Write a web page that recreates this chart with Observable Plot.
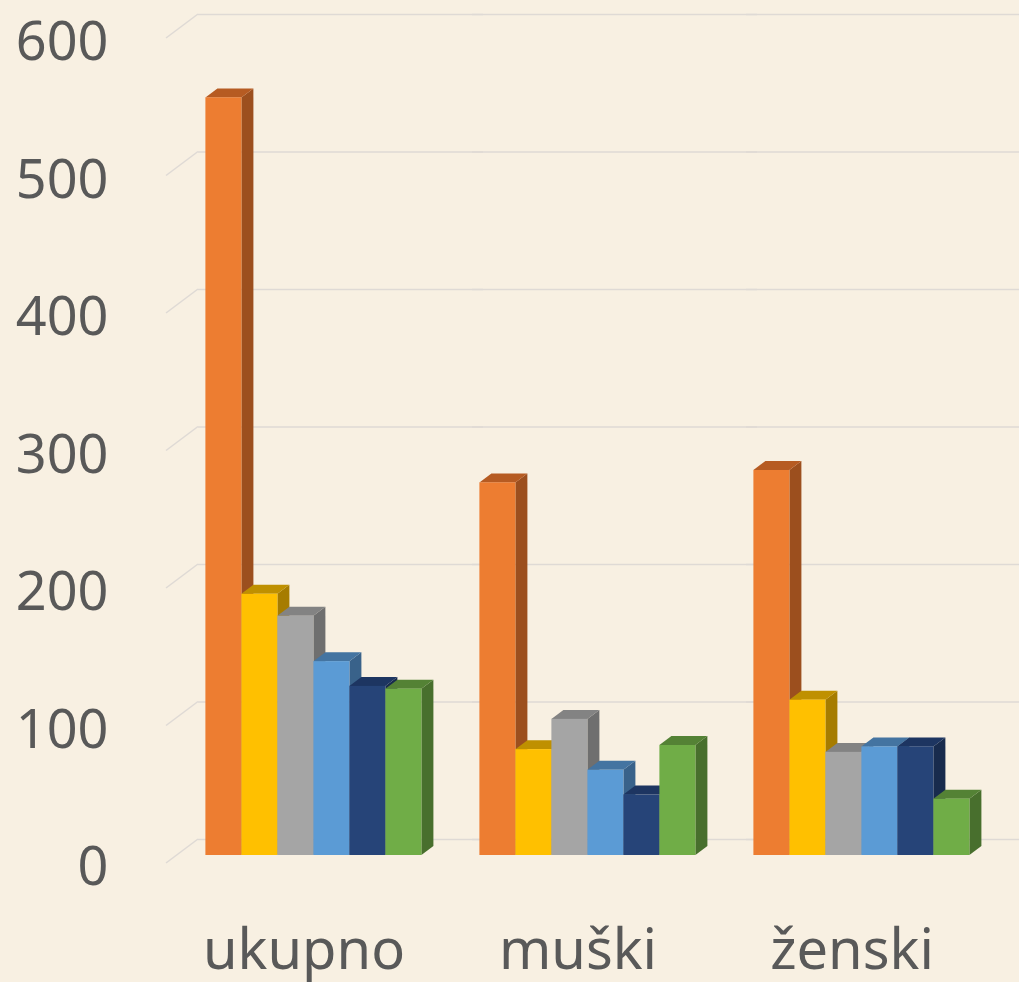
<!DOCTYPE html>
<html>
<head>
<meta charset="utf-8">
<script src="https://cdn.jsdelivr.net/npm/d3@7"></script>
<script src="https://cdn.jsdelivr.net/npm/@observablehq/plot@0.6"></script>
<style>
  html, body { margin: 0; padding: 0; background: #F8F0E2; overflow: hidden; }
  #chart { width: 1019px; height: 982px; overflow: hidden; }
</style>
</head>
<body>
<div id="chart"></div>
<script>
// ---- data ----
const groups = ["ukupno", "muški", "ženski"];
const series = ["S1", "S2", "S3", "S4", "S5", "S6"];
const ukupno = [551, 190, 174, 141, 123, 121];
const muski  = [271, 77, 99, 62, 44, 80];
const zenski = [280, 113, 75, 79, 79, 41];
const yTicks = [0, 100, 200, 300, 400, 500, 600];

// ---- styles ----
const frontColors = ["#ED7D31", "#FFC000", "#A5A5A5", "#5B9BD5", "#264478", "#70AD47"];
const topColors   = ["#B65B22", "#BF9000", "#838383", "#4474A1", "#1D3561", "#548235"];
const sideColors  = ["#9C4F1E", "#A67C00", "#6F6F6F", "#39628A", "#182B4D", "#486F2D"];

const valuesByGroup = { "ukupno": ukupno, "muški": muski, "ženski": zenski };
const data = groups.flatMap(g => series.map((s, i) => ({ group: g, series: s, value: valuesByGroup[g][i] })));

const DX = 12, DY = -9; // 3D depth offset of bars

const plot = Plot.plot({
  width: 1019,
  height: 982,
  marginTop: 30,
  marginBottom: 127,
  marginLeft: 176.6,
  marginRight: 20.4,
  style: { background: "#F8F0E2", fontFamily: "'Noto Sans', sans-serif", color: "#595959", overflow: "visible" },
  fx: { domain: groups, paddingInner: 0.2, paddingOuter: 0.1, label: null },
  x: { domain: series, padding: 0, axis: null },
  y: { domain: [0, 600], axis: null },
  color: { domain: series, range: frontColors },
  marks: [
    Plot.ruleY(yTicks, { dy: -16, stroke: "#DFDAD5", strokeWidth: 1.5, insetLeft: -6, insetRight: -60 }),
    Plot.barY(data, { fx: "group", x: "series", y: "value", fill: "series" }),
    Plot.axisY({ ticks: yTicks, tickSize: 0, tickPadding: 96, fontSize: 54, dy: 12.5, label: null, fill: "#595959" }),
    Plot.axisFx({ anchor: "bottom", tickSize: 0, tickPadding: 74, fontSize: 56, dx: -10, label: null, fill: "#595959" })
  ]
});

document.getElementById("chart").appendChild(plot);

// ---- 3D faces derived from the rects Plot drew ----
const svg = d3.select(plot);
svg.selectAll('g[aria-label="bar"] rect').each(function () {
  const r = d3.select(this);
  const x = +r.attr("x"), y = +r.attr("y"), w = +r.attr("width"), h = +r.attr("height");
  const fill = (r.attr("fill") || "").toUpperCase();
  let k = frontColors.findIndex(c => c.toUpperCase() === fill);
  const side = k >= 0 ? sideColors[k] : d3.color(fill).darker(1).formatHex();
  const top = k >= 0 ? topColors[k] : d3.color(fill).darker(0.7).formatHex();
  const parent = this.parentNode;
  const ns = "http://www.w3.org/2000/svg";
  const sidePoly = document.createElementNS(ns, "polygon");
  sidePoly.setAttribute("points", [[x + w, y], [x + w + DX, y + DY], [x + w + DX, y + h + DY], [x + w, y + h]].map(p => p.join(",")).join(" "));
  sidePoly.setAttribute("fill", side);
  const topPoly = document.createElementNS(ns, "polygon");
  topPoly.setAttribute("points", [[x, y], [x + DX, y + DY], [x + w + DX, y + DY], [x + w, y]].map(p => p.join(",")).join(" "));
  topPoly.setAttribute("fill", top);
  parent.insertBefore(sidePoly, this);
  parent.insertBefore(topPoly, this);
});

// ---- side-wall gridlines (slanted), from the plot's own scales ----
const yS = plot.scale("y"), fxS = plot.scale("fx");
const x0 = fxS.apply(groups[0]);
const wall = svg.insert("g", ":first-child").attr("aria-label", "side wall");
yTicks.forEach(v => {
  const yy = yS.apply(v);
  wall.append("line")
    .attr("x1", x0 - 38).attr("y1", yy + 8)
    .attr("x2", x0 - 6).attr("y2", yy - 16)
    .attr("stroke", "#DFDAD5").attr("stroke-width", 1.5);
});
</script>
</body>
</html>
